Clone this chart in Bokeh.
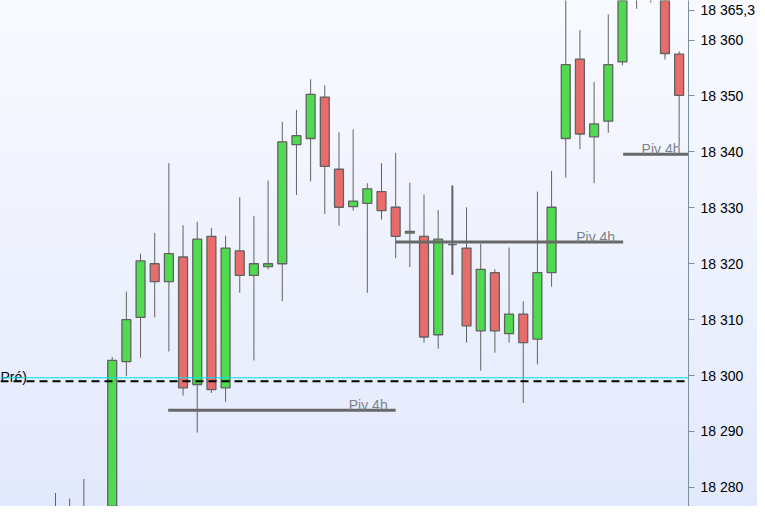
from bokeh.plotting import figure
from bokeh.models import ColumnDataSource, Span, FixedTicker, Range1d, CDSView, BooleanFilter
from bokeh.embed import file_html
from bokeh.resources import INLINE
from bokeh.core.properties import value

# ---- data (15-min candles) ----
idx = list(range(-4, 41))
opens = [18262, 18258, 18263, 18261, 18260,
         18302.5, 18310.4, 18320.0, 18316.8, 18321.2, 18298.4, 18324.9, 18297.8, 18322.3, 18317.9,
         18319.5, 18320.0, 18341.3, 18342.4, 18349.8, 18336.9, 18330.2, 18330.8, 18332.9, 18330.1,
         18325.5, 18324.9, 18307.3, 18323.4, 18322.8, 18308.0, 18318.4, 18307.5, 18311.0, 18306.5,
         18318.4, 18342.4, 18356.6, 18342.7, 18345.5, 18356.1, 18369.0, 18372.0, 18371.0, 18357.5]
highs = [18279.0, 18278.0, 18281.5, 18275.0, 18303.3,
         18315.0, 18321.8, 18325.5, 18338.0, 18326.9, 18327.5, 18326.4, 18325.0, 18331.9, 18328.5,
         18334.9, 18345.4, 18347.5, 18353.0, 18351.9, 18343.5, 18344.0, 18334.4, 18338.0, 18339.8,
         18334.5, 18332.4, 18329.6, 18334.0, 18330.1, 18323.6, 18319.0, 18322.9, 18313.3, 18332.9,
         18336.6, 18370.0, 18361.8, 18352.5, 18364.6, 18375.0, 18378.0, 18376.0, 18374.0, 18358.0]
lows = [18254, 18252, 18255, 18253, 18257,
        18299.9, 18303.2, 18310.4, 18304.3, 18296.4, 18289.8, 18296.9, 18295.3, 18314.8, 18302.7,
        18319.0, 18313.3, 18332.3, 18334.7, 18328.9, 18326.8, 18329.5, 18314.8, 18327.9, 18321.0,
        18319.4, 18305.9, 18304.8, 18318.0, 18305.9, 18300.9, 18304.1, 18305.9, 18295.1, 18302.0,
        18315.9, 18335.4, 18340.5, 18334.4, 18343.4, 18355.5, 18365.6, 18366.7, 18356.5, 18341.0]
closes = [18258, 18263, 18257, 18260, 18302.7,
          18310.0, 18320.5, 18316.8, 18321.8, 18297.8, 18324.4, 18297.5, 18322.8, 18317.9, 18320.0,
          18320.0, 18341.8, 18342.9, 18350.3, 18337.4, 18330.1, 18331.2, 18333.4, 18329.5, 18324.9,
          18325.8, 18306.9, 18324.4, 18323.4, 18308.9, 18319.0, 18308.0, 18311.0, 18305.9, 18318.4,
          18330.1, 18355.6, 18343.2, 18345.0, 18355.6, 18371.0, 18374.0, 18369.0, 18357.6, 18350.1]

tick_values = [18280, 18290, 18300, 18310, 18320, 18330, 18340, 18350, 18360]
tick_labels = ["18 280", "18 290", "18 300", "18 310", "18 320", "18 330", "18 340", "18 350", "18 360"]

last_price = 18365.3
last_price_label = "18 365,3"

pivot_levels = [18293.8, 18323.9, 18339.6]
pivot_start = [3.95, 20.0, 36.05]
pivot_end = [20.0, 36.05, 40.66]
pivot_labels = ["Piv 4h", "Piv 4h", "Piv 4h"]

prev_close = 18299.0
prev_label = "Pré)"
cyan_level = 18299.6

# ---- figure ----
X0, X1 = -7.88, 40.66
Y0, Y1 = 18276.58, 18367.08
p = figure(width=757, height=506, x_range=Range1d(X0, X1), y_range=Range1d(Y0, Y1),
           output_backend="svg", toolbar_location=None,
           x_axis_location=None, y_axis_location="right",
           min_border_left=0, min_border_top=0, min_border_bottom=0, min_border_right=68)
p.xgrid.visible = False
p.ygrid.visible = False
p.outline_line_color = None
p.background_fill_alpha = 0
p.border_fill_alpha = 0
p.styles = {"background": "linear-gradient(to bottom, #f8faff 0%, #eef2fe 50%, #e2e9fc 100%)"}

FONT = "Liberation Sans"
EDGE = "#626262"

# candles
body_top = [max(o, c) for o, c in zip(opens, closes)]
body_bot = [min(o, c) for o, c in zip(opens, closes)]
colors = ["#50da50" if c >= o else "#e86c6c" for o, c in zip(opens, closes)]
wick_w = [2 if o == c else 1 for o, c in zip(opens, closes)]
src = ColumnDataSource(dict(x=idx, o=opens, h=highs, l=lows, c=closes,
                            top=body_top, bot=body_bot, col=colors, ww=wick_w))
# only bodies that reach into the visible window are drawn
body_view = CDSView(filter=BooleanFilter([t > Y0 and b < Y1 for t, b in zip(body_top, body_bot)]))

p.segment(x0="x", y0="l", x1="x", y1="h", source=src, line_color=EDGE, line_width="ww")

# reference lines
p.add_layout(Span(location=cyan_level, dimension="width", line_color="#00e0f4", line_width=1))
p.add_layout(Span(location=prev_close, dimension="width", line_color="black",
                  line_width=2, line_dash="8 5"))

p.vbar(x="x", width=0.63, top="top", bottom="bot", source=src, view=body_view,
       fill_color="col", line_color=EDGE, line_width=1.3)

# pivots
psrc = ColumnDataSource(dict(x0=pivot_start, x1=pivot_end, y=pivot_levels, t=pivot_labels))
p.segment(x0="x0", y0="y", x1="x1", y1="y", source=psrc, line_color="#686868", line_width=3)
p.text(x="x1", y="y", text="t", source=psrc, text_align="right", text_baseline="alphabetic",
       x_offset=-8, y_offset=-5, text_font=value(FONT), text_font_size="14px",
       text_color="#7d838c")

p.text(x=[X0], y=[prev_close], text=[prev_label], text_align="left", text_baseline="alphabetic",
       y_offset=-4, text_font=value(FONT), text_font_size="14px", text_color="black")

# axis
ax = p.yaxis[0]
ax.ticker = FixedTicker(ticks=tick_values + [last_price])
ov = {v: lab for v, lab in zip(tick_values, tick_labels)}
ov[last_price] = last_price_label
ax.major_label_overrides = ov
ax.axis_line_color = "#7b8fa0"
ax.major_tick_line_color = "#7b8fa0"
ax.minor_tick_line_color = None
ax.major_tick_out = 6
ax.major_tick_in = 0
ax.major_label_standoff = 6
ax.major_label_text_font = FONT
ax.major_label_text_font_size = "14px"
ax.major_label_text_color = "black"

open("out.html", "w").write(file_html(p, INLINE))
